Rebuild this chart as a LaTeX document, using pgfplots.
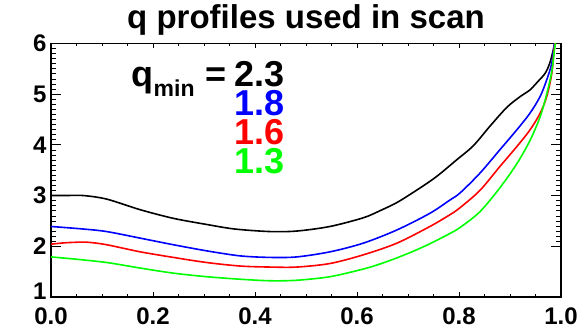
\documentclass[border=0pt]{standalone}
\usepackage{fontspec}
\setmainfont{Liberation Sans}
\usepackage{pgfplots}
\pgfplotsset{compat=1.18}
\definecolor{qblue}{RGB}{0,0,255}
\definecolor{qred}{RGB}{255,0,0}
\definecolor{qgreen}{RGB}{0,255,0}
\begin{document}
\begin{tikzpicture}
\path[use as bounding box] (-51pt,-38pt) rectangle (531pt,297pt);
\begin{axis}[
  scale only axis,
  width=510pt, height=253.7pt,
  xmin=0, xmax=1, ymin=1, ymax=6,
  xtick={0,0.2,0.4,0.6,0.8,1.0},
  ytick={2,3,4,5,6},
  extra y ticks={1},
  extra y tick style={yticklabel style={yshift=6pt}},
  minor x tick num=3,
  minor y tick num=9,
  tick align=inside,
  xtick style={/pgfplots/major tick length=5pt,/pgfplots/minor tick length=2.5pt, line width=0.6pt, black},
  ytick style={/pgfplots/major tick length=10pt,/pgfplots/minor tick length=5pt, line width=0.6pt, black},
  axis line style={line width=1.2pt, black},
  /pgf/number format/assume math mode=true,
  tick label style={font=\fontsize{24}{24}\selectfont\bfseries},
  xticklabel style={/pgf/number format/fixed,/pgf/number format/fixed zerofill,/pgf/number format/precision=1, yshift=-7.5pt},
  yticklabel style={xshift=-1pt},
  title={q profiles used in scan},
  title style={at={(0.5,1)}, anchor=base, yshift=9pt, font=\fontsize{33}{33}\selectfont\bfseries},
  every axis plot/.append style={line width=1.6pt, smooth, tension=0.5},
]
\addplot[black] coordinates {
(0,3.00)(0.03,3.00)(0.063,3.00)(0.109,2.93)(0.175,2.72)(0.240,2.55)(0.305,2.43)(0.36,2.34)(0.429,2.29)(0.482,2.30)(0.547,2.39)(0.612,2.56)(0.645,2.70)(0.678,2.86)(0.71,3.06)(0.743,3.28)(0.763,3.43)(0.795,3.70)(0.828,3.98)(0.861,4.37)(0.894,4.74)(0.920,4.95)(0.939,5.08)(0.955,5.25)(0.969,5.41)(0.978,5.61)(0.985,5.87)(0.988,6.0)(1.0,6.6)
};
\addplot[qblue] coordinates {
(0,2.39)(0.063,2.34)(0.109,2.29)(0.175,2.16)(0.240,2.03)(0.305,1.91)(0.371,1.81)(0.43,1.78)(0.482,1.79)(0.547,1.89)(0.612,2.06)(0.678,2.32)(0.743,2.65)(0.782,2.91)(0.802,3.05)(0.841,3.44)(0.880,3.90)(0.913,4.29)(0.939,4.62)(0.959,4.95)(0.972,5.28)(0.982,5.61)(0.987,6.0)(1.0,6.6)
};
\addplot[qred] coordinates {
(0,2.04)(0.03,2.07)(0.07,2.08)(0.109,2.03)(0.175,1.89)(0.240,1.78)(0.305,1.68)(0.371,1.61)(0.43,1.59)(0.482,1.59)(0.547,1.66)(0.612,1.83)(0.678,2.06)(0.743,2.39)(0.782,2.62)(0.802,2.76)(0.841,3.10)(0.880,3.57)(0.913,3.96)(0.939,4.29)(0.959,4.62)(0.972,4.95)(0.982,5.41)(0.988,6.0)(1.0,6.6)
};
\addplot[qgreen] coordinates {
(0,1.79)(0.044,1.75)(0.109,1.68)(0.175,1.57)(0.240,1.47)(0.305,1.40)(0.371,1.35)(0.43,1.32)(0.482,1.33)(0.547,1.40)(0.612,1.55)(0.645,1.65)(0.678,1.77)(0.71,1.90)(0.743,2.05)(0.78,2.24)(0.802,2.37)(0.841,2.68)(0.880,3.15)(0.913,3.62)(0.939,4.08)(0.959,4.55)(0.972,5.00)(0.982,5.45)(0.989,6.0)(1.0,6.5)
};
\end{axis}
\begin{scope}[every node/.style={anchor=base west, inner sep=0pt}]
\node[font=\fontsize{36}{36}\selectfont\bfseries] at (80.5pt,210pt) {q};
\node[font=\fontsize{23}{23}\selectfont\bfseries] at (102.5pt,200pt) {min};
\node[font=\fontsize{36}{36}\selectfont\bfseries] at (154.6pt,210pt) {=};
\node[font=\fontsize{36}{36}\selectfont\bfseries] at (183pt,210pt) {2.3};
\node[font=\fontsize{36}{36}\selectfont\bfseries, text=qblue] at (183pt,181pt) {1.8};
\node[font=\fontsize{36}{36}\selectfont\bfseries, text=qred] at (183pt,152pt) {1.6};
\node[font=\fontsize{36}{36}\selectfont\bfseries, text=qgreen] at (183pt,123.5pt) {1.3};
\end{scope}
\end{tikzpicture}
\end{document}
